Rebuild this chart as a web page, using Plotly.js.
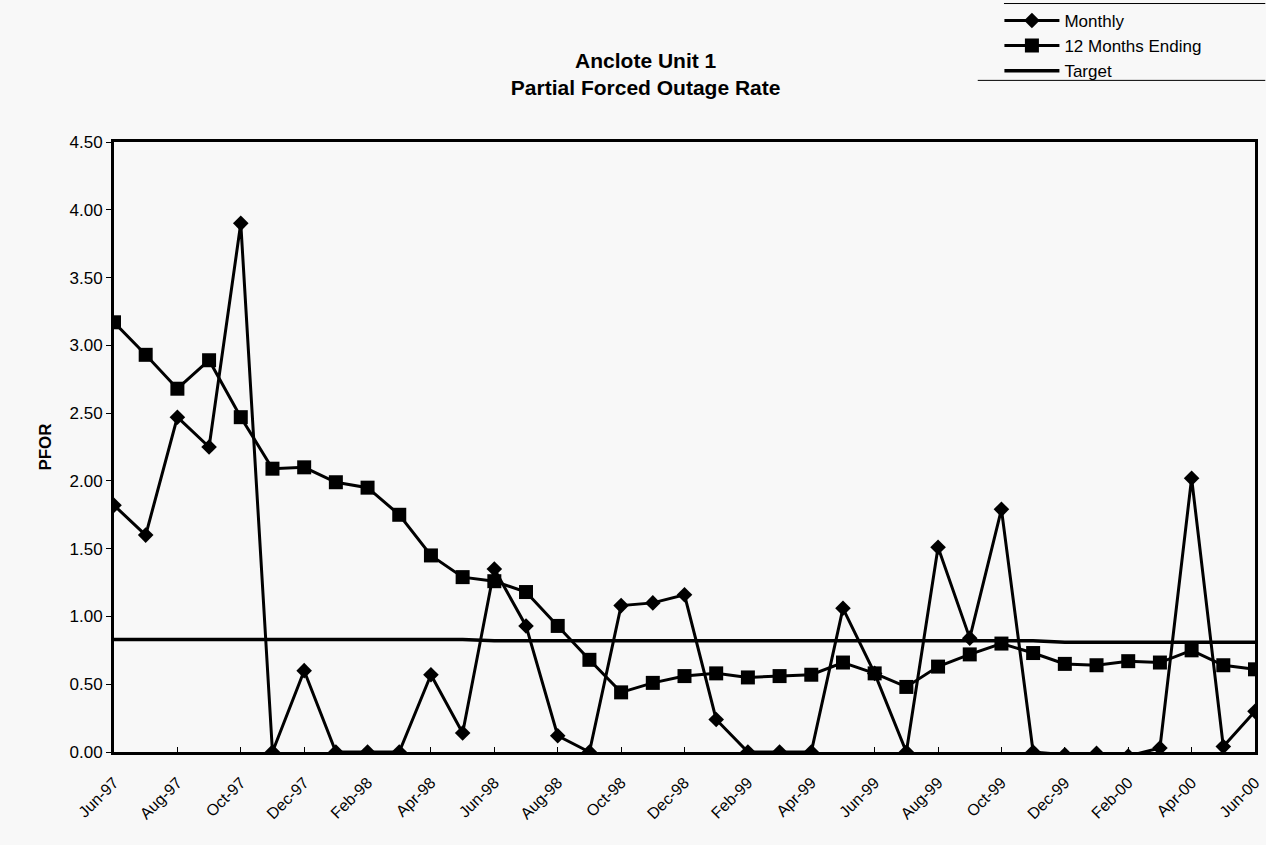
<!DOCTYPE html>
<html>
<head>
<meta charset="utf-8">
<script src="https://cdn.plot.ly/plotly-3.0.1.min.js"></script>
<style>
html,body{margin:0;padding:0;background:#f8f8f8;}
#chart{width:1266px;height:845px;}
</style>
</head>
<body>
<div id="chart"></div>
<script>
var months = ["Jun-97","Jul-97","Aug-97","Sep-97","Oct-97","Nov-97","Dec-97","Jan-98","Feb-98","Mar-98","Apr-98","May-98",
  "Jun-98","Jul-98","Aug-98","Sep-98","Oct-98","Nov-98","Dec-98","Jan-99","Feb-99","Mar-99","Apr-99","May-99",
  "Jun-99","Jul-99","Aug-99","Sep-99","Oct-99","Nov-99","Dec-99","Jan-00","Feb-00","Mar-00","Apr-00","May-00","Jun-00"];
var monthly = [1.82,1.60,2.47,2.25,3.90,0.00,0.60,0.00,0.00,0.00,0.57,0.14,
  1.35,0.93,0.12,0.00,1.08,1.10,1.16,0.24,0.00,0.00,0.00,1.06,
  0.58,0.00,1.51,0.84,1.79,0.00,-0.02,-0.01,-0.03,0.03,2.02,0.04,0.30];
var twelveMonths = [3.17,2.93,2.68,2.89,2.47,2.09,2.10,1.99,1.95,1.75,1.45,1.29,
  1.26,1.18,0.93,0.68,0.44,0.51,0.56,0.58,0.55,0.56,0.57,0.66,
  0.58,0.48,0.63,0.72,0.80,0.73,0.65,0.64,0.67,0.66,0.75,0.64,0.61];
var target = [0.83,0.83,0.83,0.83,0.83,0.83,0.83,0.83,0.83,0.83,0.83,0.83,
  0.82,0.82,0.82,0.82,0.82,0.82,0.82,0.82,0.82,0.82,0.82,0.82,
  0.82,0.82,0.82,0.82,0.82,0.82,0.81,0.81,0.81,0.81,0.81,0.81,0.81];
var yTicks = [0,0.5,1,1.5,2,2.5,3,3.5,4,4.5];

var tickMonths = months.filter(function(m,i){return i%2===0;});
var font = "Arial, 'Liberation Sans', sans-serif";

var traces = [
  {x: months, y: monthly, name: "Monthly", type: "scatter", mode: "lines+markers",
   line: {color: "#000", width: 3}, marker: {symbol: "diamond", size: 12, color: "#000"}},
  {x: months, y: twelveMonths, name: "12 Months Ending", type: "scatter", mode: "lines+markers",
   line: {color: "#000", width: 3}, marker: {symbol: "square", size: 14, color: "#000"}},
  {x: months, y: target, name: "Target", type: "scatter", mode: "lines",
   line: {color: "#000", width: 3.5}}
];

var layout = {
  width: 1266, height: 845,
  paper_bgcolor: "#f8f8f8", plot_bgcolor: "#f8f8f8",
  margin: {l: 114, r: 11, t: 142, b: 93, autoexpand: false},
  font: {family: font, color: "#000", size: 17},
  title: {text: "<b>Anclote Unit 1<br>Partial Forced Outage Rate</b>", x: 0.51, xanchor: "center",
          yref: "container", y: 0.92, yanchor: "middle", font: {size: 21, family: font}},
  showlegend: true,
  legend: {x: 0.776, xanchor: "left", y: 1.228, yanchor: "top", bgcolor: "rgba(0,0,0,0)",
           font: {size: 17, family: font}, tracegroupgap: 0, itemwidth: 55},
  xaxis: {type: "category", range: [0, 36], tickmode: "array", tickvals: tickMonths, ticktext: tickMonths,
          tickangle: -45, showline: true, mirror: true, linecolor: "#000", linewidth: 3,
          ticks: "inside", ticklen: 5, tickcolor: "#000", showgrid: false, zeroline: false,
          automargin: false, ticklabelstandoff: 12, tickfont: {size: 16}},
  yaxis: {range: [0, 4.5], tickvals: yTicks, tickformat: ".2f", showline: true, mirror: true,
          linecolor: "#000", linewidth: 3, ticks: "outside", ticklen: 5, tickcolor: "#000",
          showgrid: false, zeroline: false, automargin: false, tickfont: {size: 17},
          title: {text: "<b>PFOR</b>", font: {size: 17}, standoff: 14}},
  shapes: [
    {type: "line", xref: "paper", yref: "paper", x0: 0.78, x1: 1.009, y0: 1.227, y1: 1.227, line: {color: "#000", width: 1}},
    {type: "line", xref: "paper", yref: "paper", x0: 0.757, x1: 1.009, y0: 1.101, y1: 1.101, line: {color: "#000", width: 1}}
  ]
};

Plotly.newPlot("chart", traces, layout, {displayModeBar: false, staticPlot: true});
</script>
</body>
</html>
